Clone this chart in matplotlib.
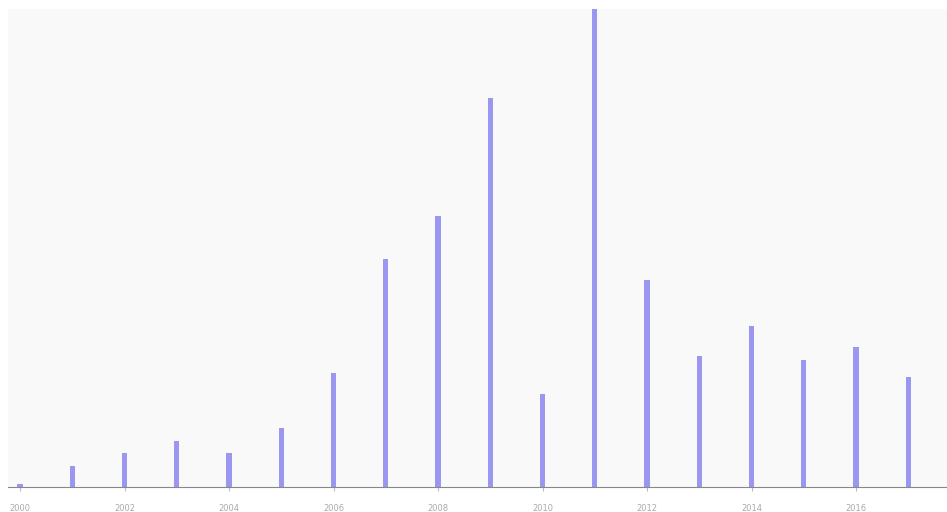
import matplotlib.pyplot as plt
import numpy as np

years = [str(y) for y in range(2000, 2018)]
values = [3, 21, 34, 46, 34, 59, 114, 228, 271, 389, 93, 478, 207, 131, 161, 127, 140, 110]

fig = plt.figure(figsize=(9.47, 5.12), dpi=100)
ax = fig.add_axes([8 / 947, 25 / 512, 939 / 947, 478 / 512])
ax.set_facecolor('#f9f9f9')

x = np.arange(len(values))
ax.bar(x, values, width=0.1, color='#9b97f0')

ax.set_xlim(-0.23, 17.74)
ax.set_ylim(0, 478)

# 只在每隔一个柱子下显示标签
ax.set_xticks(x[::2])
ax.set_xticklabels(years[::2], fontsize=6, color='#aaaaaa')
ax.tick_params(axis='x', length=3, color='#bbbbbb', pad=9)
ax.set_yticks([])

for s in ['top', 'right', 'left']:
    ax.spines[s].set_color('none')
ax.spines['bottom'].set_color('#888888')

fig.savefig('out.png', dpi=100)
